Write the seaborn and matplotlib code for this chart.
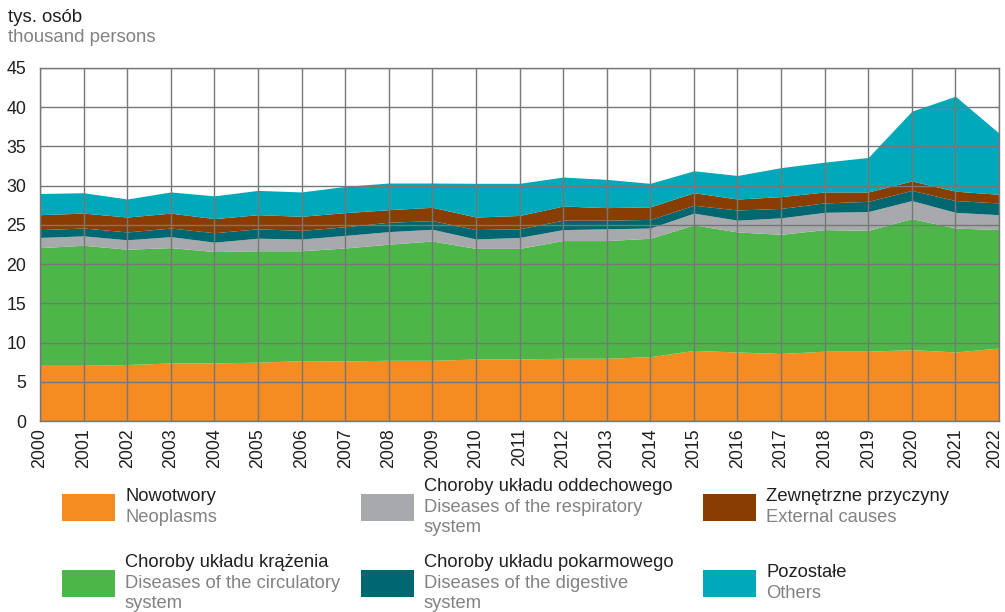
import numpy as np
import pandas as pd
import matplotlib
matplotlib.use("Agg")
import matplotlib.pyplot as plt
import matplotlib.transforms as mtransforms
import seaborn as sns
from matplotlib.patches import Rectangle

years = list(range(2000, 2023))
neoplasms = [7.1, 7.1, 7.2, 7.4, 7.4, 7.5, 7.7, 7.66, 7.74, 7.74, 7.9, 7.9, 8.0, 8.0, 8.2,
             9.0, 8.8, 8.6, 8.9, 8.9, 9.1, 8.8, 9.3]
circulatory = [15.0, 15.3, 14.7, 14.7, 14.2, 14.2, 14.0, 14.4, 14.8, 15.2, 14.1, 14.1, 15.0,
               15.0, 15.1, 16.0, 15.3, 15.2, 15.5, 15.4, 16.7, 15.8, 15.1]
respiratory = [1.3, 1.2, 1.2, 1.4, 1.2, 1.6, 1.5, 1.6, 1.6, 1.5, 1.2, 1.4, 1.4, 1.5, 1.3,
               1.5, 1.5, 2.1, 2.2, 2.4, 2.3, 2.0, 1.9]
digestive = [1.0, 1.0, 1.0, 1.1, 1.2, 1.2, 1.1, 1.1, 1.2, 1.1, 1.2, 1.1, 1.2, 1.1, 1.1,
             1.0, 1.3, 1.2, 1.2, 1.3, 1.3, 1.5, 1.5]
external = [1.9, 1.9, 1.9, 1.9, 1.8, 1.8, 1.8, 1.8, 1.6, 1.7, 1.6, 1.7, 1.8, 1.6, 1.6,
            1.6, 1.4, 1.5, 1.4, 1.2, 1.2, 1.2, 1.1]
others = [2.7, 2.6, 2.3, 2.7, 2.9, 3.1, 3.1, 3.35, 3.4, 3.1, 4.3, 4.1, 3.7, 3.6, 3.0,
          2.8, 3.0, 3.7, 3.8, 4.4, 8.9, 12.1, 7.8]

series_pl = ["Nowotwory", "Choroby układu krążenia", "Choroby układu oddechowego",
             "Choroby układu pokarmowego", "Zewnętrzne przyczyny", "Pozostałe"]
series_en = ["Neoplasms", "Diseases of the circulatory\nsystem",
             "Diseases of the respiratory\nsystem", "Diseases of the digestive\nsystem",
             "External causes", "Others"]
colors = ["#F48C21", "#4CB748", "#A7A9AC", "#00666F", "#883E00", "#00A9BA"]

df = pd.DataFrame({"year": years, "s0": neoplasms, "s1": circulatory, "s2": respiratory,
                   "s3": digestive, "s4": external, "s5": others})

sns.set_style("white")
plt.rcParams['font.family'] = ['Liberation Sans', 'DejaVu Sans']

W, H = 1005, 612
fig = plt.figure(figsize=(W / 100, H / 100), dpi=100)
left, right, top, bottom = 40, 999, 68, 421
ax = fig.add_axes([left / W, 1 - bottom / H, (right - left) / W, (bottom - top) / H])

ax.stackplot(df["year"], [df[f"s{i}"] for i in range(6)], colors=colors, linewidth=0)

ax.set_xlim(2000, 2022)
ax.set_ylim(0, 45)
ax.set_xticks(years)
ax.set_xticklabels([str(y) for y in years], rotation=90, fontsize=12.8, color="#231F20")
ax.set_yticks(range(0, 46, 5))
ax.set_yticklabels([str(v) for v in range(0, 46, 5)], fontsize=12.8, color="#231F20")
ax.tick_params(axis="both", length=0)
ax.tick_params(axis="y", pad=10)
ax.tick_params(axis="x", pad=5)
ax.set_axisbelow(False)
ax.grid(True, color="#777777", linewidth=1.0, zorder=5)
for sp in ax.spines.values():
    sp.set_color("#777777")
    sp.set_linewidth(1.0)
    sp.set_zorder(6)

# nudge the last year label inward so it is not clipped by the figure edge
last = ax.get_xticklabels()[-1]
last.set_transform(last.get_transform() +
                   mtransforms.ScaledTranslation(-4 / 100, 0, fig.dpi_scale_trans))

def fx(x):
    return x / W

def fy(y):
    return 1 - y / H

fig.text(fx(8), fy(18), "tys. osób", fontsize=13.4, color="#231F20", va="center", ha="left")
fig.text(fx(8), fy(38), "thousand persons", fontsize=13.4, color="#808285", va="center", ha="left")

# legend: 3 columns x 2 rows, column-major order
col_x = [62, 361, 703]
row_cy = [507, 583]
pw, ph = 53, 27
line_h = 20.7
for i in range(6):
    c = i // 2
    r = i % 2
    x0 = col_x[c]
    cy = row_cy[r]
    fig.patches.append(Rectangle((fx(x0), fy(cy + ph / 2)), pw / W, ph / H,
                                 transform=fig.transFigure, facecolor=colors[i],
                                 edgecolor="none"))
    lines = [(series_pl[i], "#231F20")] + [(t, "#808285") for t in series_en[i].split("\n")]
    n = len(lines)
    start = cy - (n - 1) * line_h / 2
    for k, (t, col) in enumerate(lines):
        fig.text(fx(x0 + pw + 10), fy(start + k * line_h), t, fontsize=13.2, color=col,
                 va="center", ha="left")

fig.savefig("out.png", dpi=100)
